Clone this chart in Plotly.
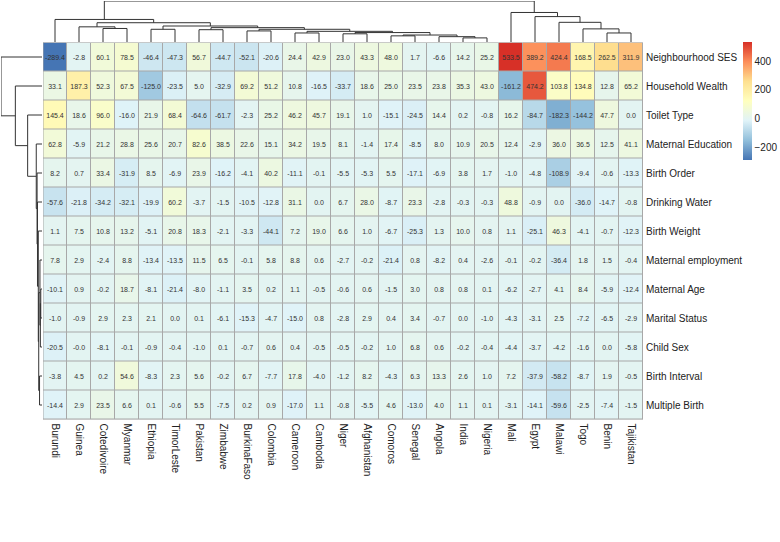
import plotly.graph_objects as go

W, H = 780, 542

countries = ["Burundi", "Guinea", "Cotedivoire", "Myanmar", "Ethiopia", "TimorLeste", "Pakistan",
             "Zimbabwe", "BurkinaFaso", "Colombia", "Cameroon", "Cambodia", "Niger", "Afghanistan",
             "Comoros", "Senegal", "Angola", "India", "Nigeria", "Mali", "Egypt", "Malawi", "Togo",
             "Benin", "Tajikistan"]

features = ["Neighbourhood SES", "Household Wealth", "Toilet Type", "Maternal Education", "Birth Order",
            "Drinking Water", "Birth Weight", "Maternal employment", "Maternal Age", "Marital Status",
            "Child Sex", "Birth Interval", "Multiple Birth"]

neighbourhood_ses = [-289.4, -2.8, 60.1, 78.5, -46.4, -47.3, 56.7, -44.7, -52.1, -20.6, 24.4, 42.9, 23.0,
                     43.3, 48.0, 1.7, -6.6, 14.2, 25.2, 533.5, 389.2, 424.4, 168.5, 262.5, 311.9]
household_wealth = [33.1, 187.3, 52.3, 67.5, -125.0, -23.5, 5.0, -32.9, 69.2, 51.2, 10.8, -16.5, -33.7,
                    18.6, 25.0, 23.5, 23.8, 35.3, 43.0, -161.2, 474.2, 103.8, 134.8, 12.8, 65.2]
toilet_type = [145.4, 18.6, 96.0, -16.0, 21.9, 68.4, -64.6, -61.7, -2.3, 25.2, 46.2, 45.7, 19.1,
               1.0, -15.1, -24.5, 14.4, 0.2, -0.8, 16.2, -84.7, -182.3, -144.2, 47.7, 0.0]
maternal_education = [62.8, -5.9, 21.2, 28.8, 25.6, 20.7, 82.6, 38.5, 22.6, 15.1, 34.2, 19.5, 8.1,
                      -1.4, 17.4, -8.5, 8.0, 10.9, 20.5, 12.4, -2.9, 36.0, 36.5, 12.5, 41.1]
birth_order = [8.2, 0.7, 33.4, -31.9, 8.5, -6.9, 23.9, -16.2, -4.1, 40.2, -11.1, -0.1, -5.5,
               -5.3, 5.5, -17.1, -6.9, 3.8, 1.7, -1.0, -4.8, -108.9, -9.4, -0.6, -13.3]
drinking_water = [-57.6, -21.8, -34.2, -32.1, -19.9, 60.2, -3.7, -1.5, -10.5, -12.8, 31.1, 0.0, 6.7,
                  28.0, -8.7, 23.3, -2.8, -0.3, -0.3, 48.8, -0.9, 0.0, -36.0, -14.7, -0.8]
birth_weight = [1.1, 7.5, 10.8, 13.2, -5.1, 20.8, 18.3, -2.1, -3.3, -44.1, 7.2, 19.0, 6.6,
                1.0, -6.7, -25.3, 1.3, 10.0, 0.8, 1.1, -25.1, 46.3, -4.1, -0.7, -12.3]
maternal_employment = [7.8, 2.9, -2.4, 8.8, -13.4, -13.5, 11.5, 6.5, -0.1, 5.8, 8.8, 0.6, -2.7,
                       -0.2, -21.4, 0.8, -8.2, 0.4, -2.6, -0.1, -0.2, -36.4, 1.8, 1.5, -0.4]
maternal_age = [-10.1, 0.9, -0.2, 18.7, -8.1, -21.4, -8.0, -1.1, 3.5, 0.2, 1.1, -0.5, -0.6,
                0.6, -1.5, 3.0, 0.8, 0.8, 0.1, -6.2, -2.7, 4.1, 8.4, -5.9, -12.4]
marital_status = [-1.0, -0.9, 2.9, 2.3, 2.1, 0.0, 0.1, -6.1, -15.3, -4.7, -15.0, 0.8, -2.8,
                  2.9, 0.4, 3.4, -0.7, 0.0, -1.0, -4.3, -3.1, 2.5, -7.2, -6.5, -2.9]
child_sex = [-20.5, -0.0, -8.1, -0.1, -0.9, -0.4, -1.0, 0.1, -0.7, 0.6, 0.4, -0.5, -0.5,
             -0.2, 1.0, 6.8, 0.6, -0.2, -0.4, -4.4, -3.7, -4.2, -1.6, 0.0, -5.8]
birth_interval = [-3.8, 4.5, 0.2, 54.6, -8.3, 2.3, 5.6, -0.2, 6.7, -7.7, 17.8, -4.0, -1.2,
                  8.2, -4.3, 6.3, 13.3, 2.6, 1.0, 7.2, -37.9, -58.2, -8.7, 1.9, -0.5]
multiple_birth = [-14.4, 2.9, 23.5, 6.6, 0.1, -0.6, 5.5, -7.5, 0.2, 0.9, -17.0, 1.1, -0.8,
                  -5.5, 4.6, -13.0, 4.0, 1.1, 0.1, -3.1, -14.1, -59.6, -2.5, -7.4, -1.5]

values = [neighbourhood_ses, household_wealth, toilet_type, maternal_education, birth_order,
          drinking_water, birth_weight, maternal_employment, maternal_age, marital_status,
          child_sex, birth_interval, multiple_birth]

colorbar_ticks = [-200, 0, 200, 400]

# dendrogram merges: (name, left, right, height relative to root)
col_merges = [
    ("a1", "Cotedivoire", "Myanmar", 0.33),
    ("A", "Guinea", "a1", 0.37),
    ("B1", "Ethiopia", "TimorLeste", 0.31),
    ("P2", "Pakistan", "Zimbabwe", 0.30),
    ("BFC", "BurkinaFaso", "Colombia", 0.27),
    ("CC", "Cameroon", "Cambodia", 0.22),
    ("NA", "Niger", "Afghanistan", 0.20),
    ("IN", "India", "Nigeria", 0.10),
    ("AIN", "Angola", "IN", 0.13),
    ("CS", "Comoros", "Senegal", 0.15),
    ("S2", "CS", "AIN", 0.17),
    ("S", "NA", "S2", 0.23),
    ("R", "CC", "S", 0.26),
    ("Q", "BFC", "R", 0.31),
    ("B2", "P2", "Q", 0.35),
    ("B", "B1", "B2", 0.39),
    ("Lr", "A", "B", 0.47),
    ("L", "Burundi", "Lr", 0.55),
    ("BT", "Benin", "Tajikistan", 0.22),
    ("T", "Togo", "BT", 0.32),
    ("M", "Malawi", "T", 0.48),
    ("E", "Egypt", "M", 0.62),
    ("Rt", "Mali", "E", 0.72),
    ("root", "L", "Rt", 1.0),
]

row_merges = [
    ("m1", "Maternal Age", "Marital Status", 0.03),
    ("m2", "m1", "Child Sex", 0.04),
    ("m3", "Maternal employment", "m2", 0.05),
    ("m4", "Birth Interval", "Multiple Birth", 0.06),
    ("m5", "m3", "m4", 0.08),
    ("m6", "Birth Weight", "m5", 0.09),
    ("m7", "Drinking Water", "m6", 0.11),
    ("m8", "Birth Order", "m7", 0.12),
    ("m9", "Maternal Education", "m8", 0.14),
    ("m10", "Toilet Type", "m9", 0.35),
    ("m11", "Household Wealth", "m10", 0.65),
    ("root", "Neighbourhood SES", "m11", 1.0),
]

colorscale_colors = ["#4575B4", "#91BFDB", "#E0F3F8", "#FFFFBF", "#FEE090", "#FC8D59", "#D73027"]


def dendro(merges, leaves):
    pos = {name: i for i, name in enumerate(leaves)}
    hgt = {name: 0.0 for name in leaves}
    p_list, h_list = [], []
    for name, a, b, h in merges:
        pa, pb = pos[a], pos[b]
        p_list += [pa, pa, pb, pb, None]
        h_list += [hgt[a], h, h, hgt[b], None]
        pos[name] = (pa + pb) / 2
        hgt[name] = h
    return p_list, h_list


zmin = min(min(r) for r in values)
zmax = max(max(r) for r in values)
cs = [[i / (len(colorscale_colors) - 1), c] for i, c in enumerate(colorscale_colors)]
text = [[f"{v:.1f}" for v in row] for row in values]

nx, ny = len(countries), len(features)

# pixel layout
hx0, hx1 = 43, 643
hy0, hy1 = 42.5, 419.5


def px(x):
    return x / W


def py(y):
    return 1 - y / H


fig = go.Figure()
fig.add_trace(go.Heatmap(
    z=values, x=list(range(nx)), y=list(range(ny)),
    colorscale=cs, zmin=zmin, zmax=zmax,
    xgap=1, ygap=1,
    text=text, texttemplate="%{text}",
    textfont=dict(size=7, color="#333333", family="Liberation Sans, Arial"),
    hoverinfo="skip",
    colorbar=dict(
        thickness=9, thicknessmode="pixels",
        len=118, lenmode="pixels",
        x=px(743), xanchor="left", y=py(101), yanchor="middle",
        outlinewidth=0, ticks="", tickvals=colorbar_ticks,
        tickfont=dict(size=10, color="#222222", family="Liberation Sans, Arial"),
        ypad=0, xpad=0,
    ),
))

cx, ch = dendro(col_merges, countries)
fig.add_trace(go.Scatter(x=cx, y=ch, mode="lines", line=dict(color="#333333", width=1),
                         xaxis="x2", yaxis="y2", hoverinfo="skip", showlegend=False))
ry, rh = dendro(row_merges, features)
fig.add_trace(go.Scatter(x=rh, y=ry, mode="lines", line=dict(color="#333333", width=1),
                         xaxis="x3", yaxis="y3", hoverinfo="skip", showlegend=False))

# grid background and border
fig.add_shape(type="rect", xref="x", yref="y", x0=-0.5, x1=nx - 0.5, y0=-0.5, y1=ny - 0.5,
              fillcolor="#a8a8a8", line=dict(width=0), layer="below")
fig.add_shape(type="rect", xref="x", yref="y", x0=-0.5, x1=nx - 0.5, y0=-0.5, y1=ny - 0.5,
              fillcolor="rgba(0,0,0,0)", line=dict(width=1, color="#a8a8a8"), layer="above")

font = dict(family="Liberation Sans, Arial", size=10, color="#222222")
fig.update_layout(
    width=W, height=H,
    margin=dict(l=0, r=0, t=0, b=0),
    paper_bgcolor="white", plot_bgcolor="white",
    font=font,
    showlegend=False,
    xaxis=dict(domain=[px(hx0), px(hx1)], range=[-0.5, nx - 0.5], tickvals=list(range(nx)),
               ticktext=countries, tickangle=90, showgrid=False, zeroline=False, ticks="",
               ticklabelstandoff=3, tickfont=font, anchor="y"),
    yaxis=dict(domain=[py(hy1), py(hy0)], range=[ny - 0.5, -0.5], tickvals=list(range(ny)),
               ticktext=features, side="right", showgrid=False, zeroline=False, ticks="",
               ticklabelstandoff=2, tickfont=font, anchor="x"),
    xaxis2=dict(domain=[px(hx0), px(hx1)], range=[-0.5, nx - 0.5], visible=False, anchor="y2"),
    yaxis2=dict(domain=[py(hy0 - 0.5), py(1)], range=[0, 1.0], visible=False, anchor="x2"),
    xaxis3=dict(domain=[px(1), px(hx0 - 1)], range=[1.0, 0], visible=False, anchor="y3"),
    yaxis3=dict(domain=[py(hy1), py(hy0)], range=[ny - 0.5, -0.5], visible=False, anchor="x3"),
)

fig.write_html("out.html")
